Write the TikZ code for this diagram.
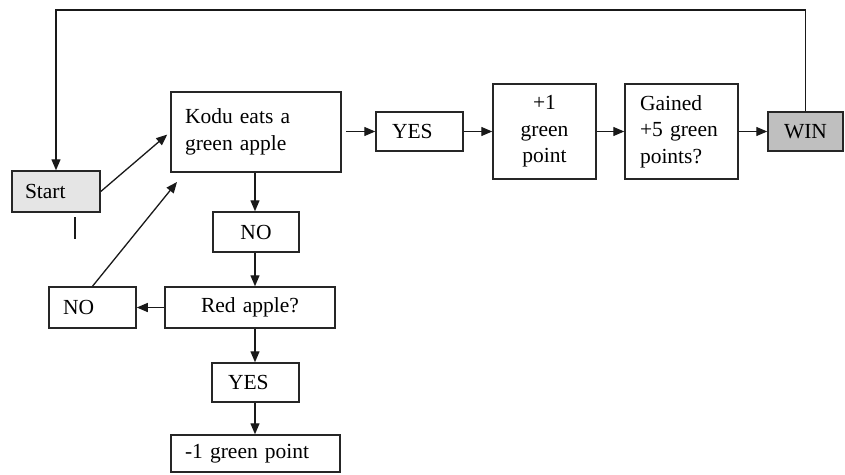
\documentclass[tikz,border=0pt]{standalone}
\usepackage{fontspec}
\setmainfont{Liberation Serif}
\usetikzlibrary{arrows.meta,calc}
\begin{document}
\begin{tikzpicture}[x=1pt,y=-1pt,
  box/.style={draw=black!85, line width=1.5pt, inner ysep=0pt,
    font=\fontsize{21.5}{26.5}\selectfont},
  lbox/.style n args={3}{box, text width=#1pt-2*#3pt, inner xsep=#3pt,
    minimum height=#2pt, align=left},
  cbox/.style n args={2}{box, text width=#1pt, inner xsep=0pt,
    minimum height=#2pt, align=center},
  conn/.style={line width=1.3pt, black!90},
  arr/.style={conn, -{Triangle[length=11pt,width=9pt]}}]
\useasboundingbox (0,0) rectangle (845,474);
% nodes
\node[lbox={88}{41}{13}, fill=black!10] (start) at (56,191.5) {Start};
\node[lbox={170}{80}{14}] (kodu) at (256,132) {Kodu eats a\\green apple};
\node[cbox={86}{40}] (nom) at (256,232) {NO};
\node[lbox={87}{41}{14}] (nol) at (92.5,307.5) {NO};
\node[cbox={170}{41}] (red) at (250,307.5) {Red apple?};
\node[lbox={87}{39}{16}] (yesb) at (255.5,382.5) {YES};
\node[lbox={169}{37}{14}] (minus) at (255.5,453.5) {-1 green point};
\node[lbox={87}{39}{16}] (yest) at (419.5,131.5) {YES};
\node[cbox={103}{95}] (plus) at (544.5,131.5) {+1\\green\\point};
\node[lbox={113}{95}{15}] (gained) at (681.5,131.5) {Gained\\+5 green\\points?};
\node[cbox={75}{39}, fill=black!25] (win) at (805.5,131.5) {WIN};
% helper coordinates
\coordinate (top) at (0,10);
\coordinate (kin) at (177,182);
\coordinate (stubA) at (75,217);
\coordinate (stubB) at (75,239);
% connectors
\draw[arr] (win.north) -- (win.north |- top) -- (start.north |- top) -- (start.north);
\draw[arr, shorten >=4pt] (start.east) -- (kodu.west);
\draw[arr] (nol.north) -- (kin);
\draw[conn] (stubA) -- (stubB);
\draw[arr] (kodu.south -| 255,0) -- (nom.north -| 255,0);
\draw[arr] (nom.south -| 255,0) -- (red.north -| 255,0);
\draw[arr] (red.west) -- (nol.east);
\draw[arr] (red.south -| 255,0) -- (yesb.north -| 255,0);
\draw[arr] (yesb.south -| 255,0) -- (minus.north -| 255,0);
\draw[arr, shorten <=4pt] (kodu.east |- yest.west) -- (yest.west);
\draw[arr] (yest.east) -- (plus.west);
\draw[arr] (plus.east) -- (gained.west);
\draw[arr] (gained.east) -- (win.west);
\end{tikzpicture}
\end{document}
